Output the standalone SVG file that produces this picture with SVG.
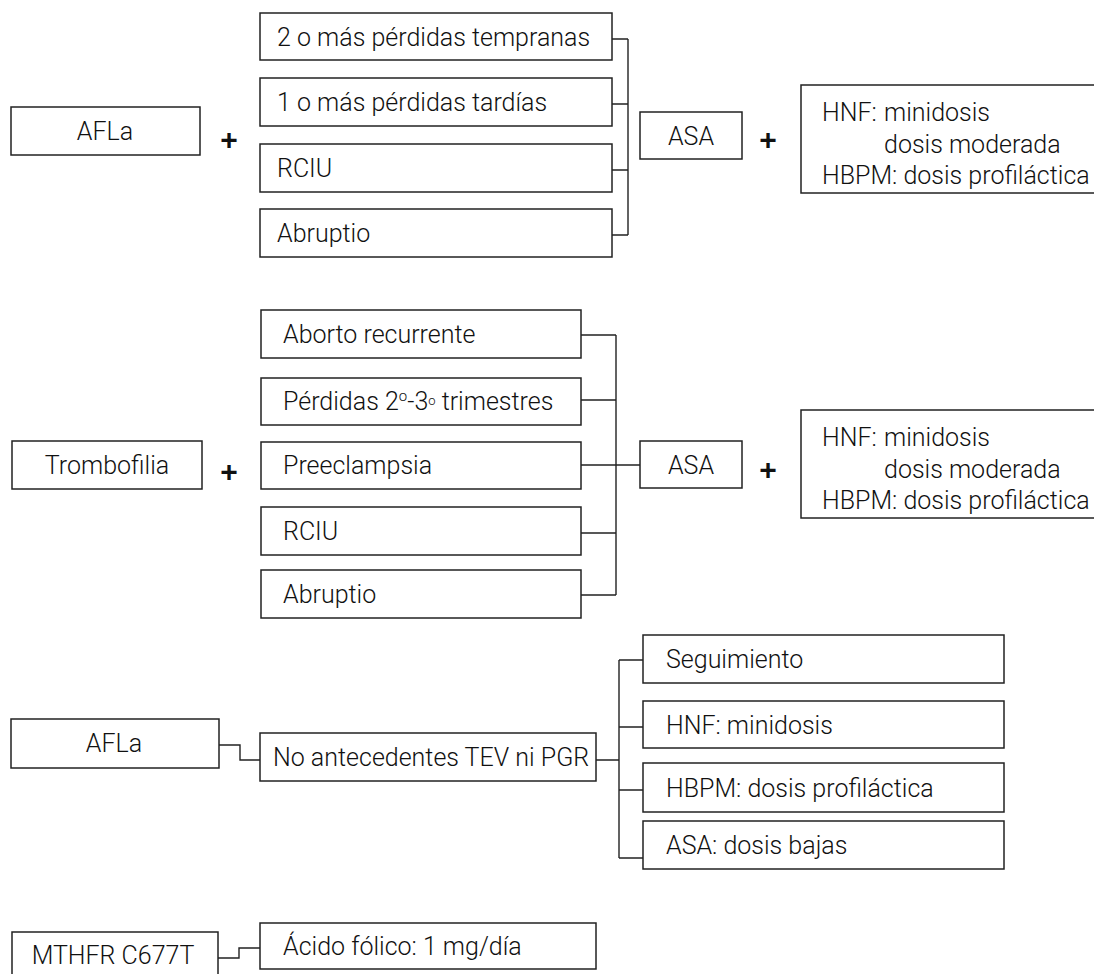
<svg xmlns="http://www.w3.org/2000/svg" width="1094" height="974" viewBox="0 0 1094 974">
<style>
rect{fill:#fff;stroke:#222;stroke-width:1.5}
text{font-family:Roboto,"Liberation Sans",Arial,sans-serif;font-weight:300;font-size:25px;fill:#111}
.c{text-anchor:middle}
.p{font-family:"Liberation Sans",Arial,sans-serif;font-weight:bold;font-size:30px;text-anchor:middle}
.ln{fill:none;stroke:#222;stroke-width:1.4}
</style>
<rect width="1094" height="974" style="fill:#fff;stroke:none"/>
<g id="connectors">
<path class="ln" d="M612 39H628M612 104H628M612 170H628M612 235H628M628 39V235"/>
<path class="ln" d="M581 335H616M581 400H616M581 465H616M581 533H616M581 595H616M616 335V595M616 465H640"/>
<path class="ln" d="M219 745H240V760H260"/>
<path class="ln" d="M596 760H619M619 660V858M619 660H643M619 727H643M619 790H643M619 858H643"/>
<path class="ln" d="M218 958H239V948H260"/>
</g>
<g id="afla1"><rect x="11" y="107" width="189" height="48"/><text class="c" x="105" y="140">AFLa</text></g>
<text class="p" x="229" y="150">+</text>
<g id="t1"><rect x="260" y="13" width="352" height="47"/><text x="277" y="46">2 o más pérdidas tempranas</text></g>
<g id="t2"><rect x="260" y="78" width="352" height="48"/><text x="277" y="111">1 o más pérdidas tardías</text></g>
<g id="t3"><rect x="260" y="144" width="352" height="48"/><text x="277" y="177">RCIU</text></g>
<g id="t4"><rect x="260" y="209" width="352" height="48"/><text x="277" y="242">Abruptio</text></g>
<g id="asa1"><rect x="640" y="112" width="102" height="47"/><text class="c" x="691" y="145">ASA</text></g>
<text class="p" x="768" y="150">+</text>
<g id="hnf1"><rect x="801" y="85" width="300" height="108"/>
<text x="822" y="121">HNF:</text><text x="884" y="121">minidosis</text>
<text x="884" y="153">dosis moderada</text>
<text x="822" y="184">HBPM: dosis profiláctica</text></g>

<g id="tromb"><rect x="12" y="441" width="190" height="48"/><text class="c" x="107" y="474">Trombofilia</text></g>
<text class="p" x="229" y="482">+</text>
<g id="m1"><rect x="261" y="310" width="320" height="48"/><text x="283" y="343">Aborto recurrente</text></g>
<g id="m2"><rect x="261" y="378" width="320" height="47"/><text x="283" y="410">Pérdidas 2<tspan font-size="15" dy="-9">o</tspan><tspan dy="9">-3</tspan><tspan font-size="13" dy="-5">o</tspan><tspan dy="5"> trimestres</tspan></text></g>
<g id="m3"><rect x="261" y="442" width="320" height="47"/><text x="283" y="474">Preeclampsia</text></g>
<g id="m4"><rect x="261" y="507" width="320" height="48"/><text x="283" y="540">RCIU</text></g>
<g id="m5"><rect x="261" y="570" width="320" height="48"/><text x="283" y="603">Abruptio</text></g>
<g id="asa2"><rect x="640" y="441" width="102" height="47"/><text class="c" x="691" y="474">ASA</text></g>
<text class="p" x="768" y="480">+</text>
<g id="hnf2"><rect x="801" y="410" width="300" height="108"/>
<text x="822" y="446">HNF:</text><text x="884" y="446">minidosis</text>
<text x="884" y="478">dosis moderada</text>
<text x="822" y="509">HBPM: dosis profiláctica</text></g>

<g id="afla2"><rect x="11" y="719" width="208" height="49"/><text class="c" x="114" y="752">AFLa</text></g>
<g id="noant"><rect x="260" y="733" width="336" height="48"/><text x="273" y="766">No antecedentes TEV ni PGR</text></g>
<g id="b1"><rect x="643" y="635" width="361" height="48"/><text x="666" y="668">Seguimiento</text></g>
<g id="b2"><rect x="643" y="701" width="361" height="47"/><text x="666" y="734">HNF: minidosis</text></g>
<g id="b3"><rect x="643" y="763" width="361" height="49"/><text x="666" y="797">HBPM: dosis profiláctica</text></g>
<g id="b4"><rect x="643" y="821" width="361" height="48"/><text x="666" y="854">ASA: dosis bajas</text></g>

<g id="mthfr"><rect x="12" y="932" width="206" height="60"/><text class="c" x="113" y="964">MTHFR C677T</text></g>
<g id="folico"><rect x="260" y="923" width="336" height="46"/><text x="283" y="955">Ácido fólico: 1 mg/día</text></g>
</svg>
